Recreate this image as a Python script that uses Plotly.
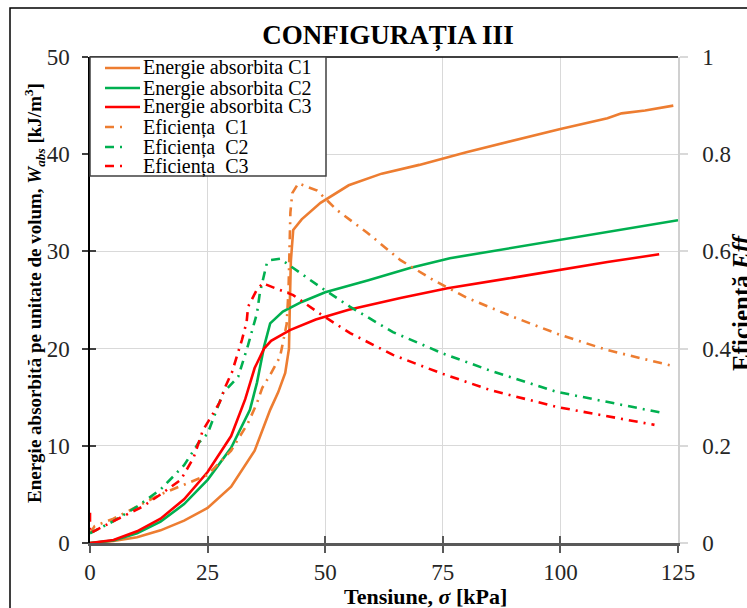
import plotly.graph_objects as go

# ---------------- data ----------------
sig_w1 = [0, 5, 10, 15, 20, 25, 30, 35, 38.3, 40, 41.5, 42.3, 42.5, 42.7, 43.2, 45, 49, 55, 62, 70, 80, 90, 100, 110, 113, 118, 124]
w1 = [0, 0.2, 0.6, 1.3, 2.3, 3.6, 5.8, 9.5, 13.7, 15.5, 17.5, 20, 25, 29, 32.2, 33.3, 35, 36.8, 38, 38.9, 40.2, 41.4, 42.6, 43.7, 44.2, 44.5, 45]

sig_w2 = [0, 5, 10, 15, 20, 25, 30, 34, 35.5, 37, 38.3, 41, 45, 50, 59, 68, 76.5, 90, 100, 110, 125]
w2 = [0, 0.25, 1.0, 2.2, 4.0, 6.5, 9.8, 13.7, 16.5, 20.2, 22.6, 23.8, 24.8, 25.8, 27, 28.3, 29.3, 30.4, 31.2, 32, 33.2]

sig_w3 = [0, 5, 10, 15, 20, 25, 30, 33, 35, 37, 38.5, 42.5, 48, 55, 66, 76, 90, 100, 110, 121]
w3 = [0, 0.3, 1.2, 2.5, 4.5, 7.3, 11, 14.8, 18, 20, 20.8, 21.9, 23, 24, 25.2, 26.2, 27.3, 28.1, 28.9, 29.7]

sig_e1 = [0, 1, 5, 10, 15, 20, 25, 30, 32.3, 33.6, 35.5, 36.6, 38.3, 40.4, 41.8, 42.2, 42.6, 43, 44.3, 48.3, 52.5, 59, 66, 73, 80, 90, 100, 110, 118, 124]
e1 = [0.02, 0.035, 0.05, 0.075, 0.1, 0.12, 0.14, 0.19, 0.226, 0.247, 0.288, 0.319, 0.346, 0.383, 0.45, 0.52, 0.68, 0.72, 0.74, 0.725, 0.685, 0.638, 0.582, 0.541, 0.505, 0.465, 0.428, 0.397, 0.378, 0.364]

sig_e2 = [0, 5, 10, 15, 20, 23, 25, 28.3, 31.5, 33.6, 35.5, 36.1, 37.6, 38.3, 40.4, 42.9, 48.9, 55.3, 64.4, 75, 85, 99.2, 110, 122]
e2 = [0.02, 0.045, 0.075, 0.11, 0.16, 0.205, 0.225, 0.309, 0.342, 0.407, 0.473, 0.514, 0.576, 0.582, 0.585, 0.568, 0.527, 0.486, 0.434, 0.39, 0.355, 0.311, 0.29, 0.267]

sig_e3 = [0, 0, 5, 11.2, 15, 19.3, 22, 24, 26.2, 27.6, 28.7, 30.2, 32.3, 33.3, 33.6, 35.4, 36.8, 37.6, 43.2, 49.3, 55.3, 64.4, 74.4, 85, 99.2, 110, 120]
e3 = [0.062, 0.02, 0.045, 0.075, 0.1, 0.13, 0.175, 0.232, 0.267, 0.29, 0.32, 0.352, 0.418, 0.455, 0.486, 0.52, 0.535, 0.531, 0.51, 0.469, 0.432, 0.387, 0.35, 0.315, 0.28, 0.26, 0.243]

names_w = ["Energie absorbita C1", "Energie absorbita C2", "Energie absorbita C3"]
names_e = ["Eficiența  C1", "Eficiența  C2", "Eficiența  C3"]
colors = ["#ED7D31", "#00B050", "#FF0000"]

x_ticks = [0, 25, 50, 75, 100, 125]
y_ticks = [0, 10, 20, 30, 40, 50]
y2_ticks = [0, 0.2, 0.4, 0.6, 0.8, 1]
y2_labels = ["0", "0.2", "0.4", "0.6", "0.8", "1"]

FONT = "Liberation Serif"
DASH = "9px,6px,2px,6px"
LW = 2.6

# plot-area geometry in pixels (used only for placing layout decorations)
W, H = 747, 608
L, R, T, B = 90, 69, 57, 65
PW, PH = W - L - R, H - T - B


def px(xp):
    return (xp - L) / PW


def py(yp):
    return (H - B - yp) / PH


fig = go.Figure()
for sx, sy, nm, c in zip([sig_w1, sig_w2, sig_w3], [w1, w2, w3], names_w, colors):
    fig.add_trace(go.Scatter(x=sx, y=sy, name=nm, mode="lines", showlegend=False,
                             line=dict(color=c, width=LW), xaxis="x", yaxis="y"))
for sx, sy, nm, c in zip([sig_e1, sig_e2, sig_e3], [e1, e2, e3], names_e, colors):
    fig.add_trace(go.Scatter(x=sx, y=sy, name=nm, mode="lines", showlegend=False,
                             line=dict(color=c, width=LW, dash=DASH), xaxis="x", yaxis="y2"))
# empty trace carrying the inner half of the crossing tick marks
fig.add_trace(go.Scatter(x=[], y=[], xaxis="x2", yaxis="y3", showlegend=False, hoverinfo="skip"))

tickfont = dict(family=FONT, size=23, color="#262626")

fig.update_layout(
    width=W, height=H,
    margin=dict(l=L, r=R, t=T, b=B),
    paper_bgcolor="white", plot_bgcolor="white",
    font=dict(family=FONT, color="black"),
    showlegend=False,
    title=dict(text="<b>CONFIGURAȚIA III</b>", font=dict(family=FONT, size=27, color="black"),
               x=px(388), xref="paper", xanchor="center", y=1 - 35 / H, yanchor="middle"),
    xaxis=dict(range=[0, 125], tickvals=x_ticks, ticks="outside", ticklen=7, tickwidth=1.5,
               tickcolor="#595959", showline=True, linecolor="#595959", linewidth=2.5,
               showgrid=True, gridcolor="#d9d9d9", gridwidth=1, zeroline=False,
               tickfont=tickfont, ticklabelstandoff=0),
    xaxis2=dict(range=[0, 125], tickvals=x_ticks, ticks="inside", ticklen=7, tickwidth=1.5,
                tickcolor="#595959", overlaying="x", anchor="y", showticklabels=False,
                showgrid=False, zeroline=False, showline=False),
    yaxis=dict(range=[0, 50], tickvals=y_ticks, ticks="outside", ticklen=6, tickwidth=1.5,
               tickcolor="#404040", showline=True, linecolor="black", linewidth=1.5,
               showgrid=True, gridcolor="#d9d9d9", gridwidth=1, zeroline=False,
               tickfont=tickfont, ticklabelstandoff=8),
    yaxis3=dict(range=[0, 50], tickvals=y_ticks, ticks="inside", ticklen=6, tickwidth=1.5,
                tickcolor="#404040", overlaying="y", side="left", anchor="x",
                showticklabels=False, showgrid=False, zeroline=False, showline=False),
    yaxis2=dict(range=[0, 1], tickvals=y2_ticks, ticktext=y2_labels, overlaying="y", side="right",
                ticks="outside", ticklen=8, tickwidth=1.5, tickcolor="#d9d9d9",
                showline=True, linecolor="#d0d0d0", linewidth=1.5,
                showgrid=False, zeroline=False, tickfont=tickfont, ticklabelstandoff=10),
)

# top border of plot area
fig.add_shape(type="line", xref="paper", yref="paper", x0=0, x1=1, y0=1, y1=1,
              line=dict(color="black", width=1.5))
# outer chart frame (extends past the right/bottom edge of the picture)
fig.add_shape(type="rect", xref="paper", yref="paper",
              x0=px(10), x1=1.5, y0=py(8), y1=-0.5,
              line=dict(color="black", width=1.5), fillcolor="rgba(0,0,0,0)", layer="below")

# ---------------- legend box (drawn as layout decorations) ----------------
fig.add_shape(type="rect", xref="paper", yref="paper", x0=px(90), x1=px(326), y0=py(57), y1=py(176),
              line=dict(color="#404040", width=1.5), fillcolor="white", layer="above")
entry_y = [68, 88, 107, 127, 147, 166]
entries = [(n, c, "solid") for n, c in zip(names_w, colors)] + [(n, c, DASH) for n, c in zip(names_e, colors)]
for (nm, c, d), ey in zip(entries, entry_y):
    x_end = 140 if d == "solid" else 124
    fig.add_shape(type="line", xref="paper", yref="paper", x0=px(105), x1=px(x_end), y0=py(ey), y1=py(ey),
                  line=dict(color=c, width=LW, dash=d), layer="above")
    fig.add_annotation(xref="paper", yref="paper", x=px(141), y=py(ey), xanchor="left", yanchor="middle",
                       text=nm.replace("  ", "\u00a0 "), showarrow=False,
                       font=dict(family=FONT, size=20, color="black"))

# axis titles
fig.add_annotation(xref="paper", yref="paper", x=px(425), y=py(596),
                   text="<b>Tensiune, <i>σ</i> [kPa]</b>", showarrow=False,
                   xanchor="center", yanchor="middle", font=dict(family=FONT, size=22, color="black"))
fig.add_annotation(xref="paper", yref="paper", x=px(34), y=py(293),
                   text="<b>Energie absorbită pe unitate de volum, <i>W<sub>abs</sub></i> [kJ/m<sup>3</sup>]</b>",
                   textangle=-90, showarrow=False, xanchor="center", yanchor="middle",
                   font=dict(family=FONT, size=19, color="black"))
fig.add_annotation(xref="paper", yref="paper", x=px(742), y=py(302),
                   text="<b>Eficiență <i>Eff</i></b>",
                   textangle=-90, showarrow=False, xanchor="center", yanchor="middle",
                   font=dict(family=FONT, size=25, color="black"))

fig.write_html("out.html")
